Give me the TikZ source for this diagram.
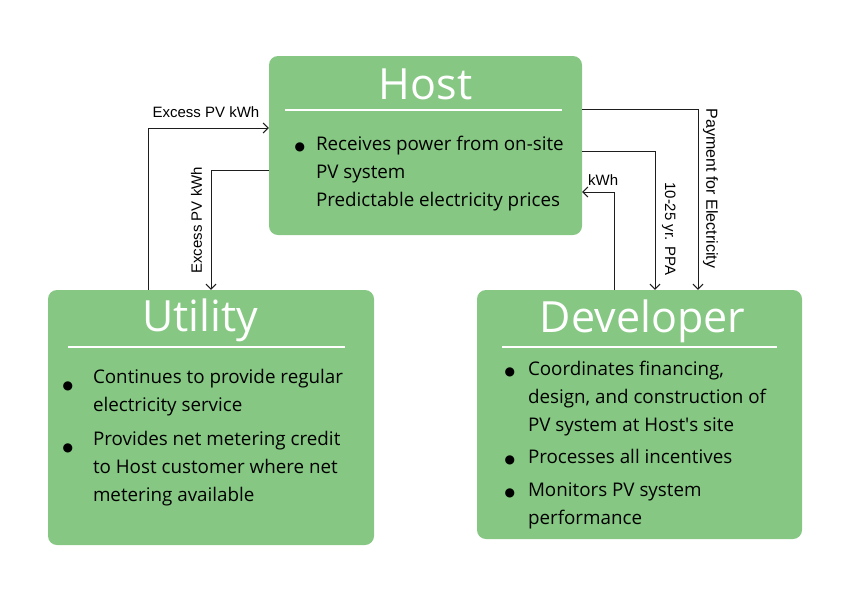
\documentclass[tikz,border=0pt]{standalone}
\usepackage{fontspec}
\newfontfamily\boxfont{Open Sans}
\newfontfamily\labelfont{Liberation Sans}
\newfontfamily\symfont{DejaVu Sans}
\usetikzlibrary{arrows.meta,positioning}
\definecolor{leaf}{RGB}{134,200,131}
\definecolor{ink}{RGB}{30,30,30}
\newlength{\bulgap}
\newcommand{\bul}[1][0pt]{\llap{\raisebox{#1}{\symfont\fontsize{12}{12}\selectfont ●}\hspace{\bulgap}}}
\tikzset{
  party/.style={fill=leaf,rounded corners=9pt,inner sep=0pt},
  title/.style={font=\boxfont\fontsize{43}{43}\selectfont,text=white,anchor=base,inner sep=0pt},
  body/.style={font=\boxfont\fontsize{18.8}{28}\selectfont,align=left,inner sep=0pt,
    execute at begin node={\setlength{\bulgap}{#1}}},
  rule/.style={draw=white,line width=2pt},
  flow/.style={-{Straight Barb[length=5pt,width=10pt]},draw=ink,line width=1pt},
  tag/.style={font=\labelfont\fontsize{15}{15}\selectfont,inner sep=0pt,anchor=south}
}
\begin{document}
\begin{tikzpicture}[x=1pt,y=-1pt]
  \useasboundingbox (0,0) rectangle (842,595);
  % the three parties
  \node[party,minimum width=313pt,minimum height=179pt] (host) at (425.5,145.5) {};
  \node[party,minimum width=326pt,minimum height=255pt] (utility) at (211,417.5) {};
  \node[party,minimum width=325pt,minimum height=249pt] (developer) at (639.5,414.5) {};
  \node[title] (hosttitle) at ([yshift=-44pt]host.north) {Host};
  \node[title] (utiltitle) at ([xshift=-11pt,yshift=-42pt]utility.north) {Utility};
  \node[title] (devtitle) at ([xshift=3pt,yshift=-43pt]developer.north) {Developer};
  \draw[rule] ([xshift=16pt,yshift=-54pt]host.north west) -- ([xshift=-20pt,yshift=-54pt]host.north east);
  \draw[rule] ([xshift=20pt,yshift=-57pt]utility.north west) -- ([xshift=-29pt,yshift=-57pt]utility.north east);
  \draw[rule] ([xshift=25pt,yshift=-57pt]developer.north west) -- ([xshift=-25pt,yshift=-57pt]developer.north east);
  \node[body=11pt,below right=80pt and 47pt of host.north west] (hostnotes)
    {\bul Receives power from on-site\\ PV system\\ Predictable electricity prices};
  \node[body=20pt,below right=79pt and 45pt of utility.north west] (utilnotes)
    {\bul[-6pt]Continues to provide regular\\ electricity service\\[6pt]
     \bul[-6pt]Provides net metering credit\\ to Host customer where net\\ metering available};
  \node[body=13pt,below right=71pt and 51pt of developer.north west] (devnotes)
    {\bul Coordinates financing,\\ design, and construction of\\ PV system at Host\textquotesingle s site\\[4.5pt]
     \bul Processes all incentives\\[4.5pt]
     \bul Monitors PV system\\ performance};
  % flows between the parties
  \draw[flow] ([xshift=-63pt]utility.north) |- node[tag,pos=0.74,outer sep=10pt]{Excess PV kWh} ([yshift=17.5pt]host.west);
  \draw[flow] ([yshift=-24.5pt]host.west) -| node[tag,pos=0.71,rotate=90,outer sep=9pt]{Excess PV kWh} (utility.north);
  \draw[flow] ([yshift=36.5pt]host.east) -| node[tag,pos=0.72,rotate=-90,outer sep=5pt,font=\labelfont\fontsize{16}{16}\selectfont]{Payment for Electricity} ([xshift=58.5pt]developer.north);
  \draw[flow] ([yshift=-5.5pt]host.east) -| node[tag,pos=0.78,rotate=-90,outer sep=7pt]{10-25 yr. PPA} ([xshift=15.5pt]developer.north);
  \draw[flow] ([xshift=-25.5pt]developer.north) |- node[tag,pos=0.67,outer sep=7pt]{kWh} ([yshift=-46.5pt]host.east);
\end{tikzpicture}
\end{document}
